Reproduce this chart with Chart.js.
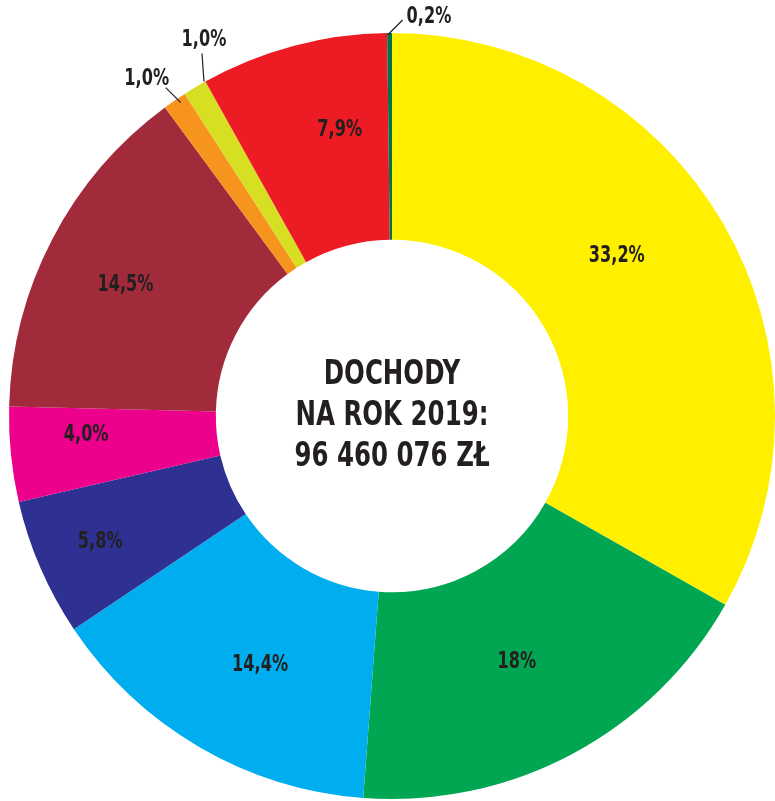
<!DOCTYPE html>
<html>
<head>
<meta charset="utf-8">
<script src="https://cdn.jsdelivr.net/npm/chart.js@4"></script>
<style>
  html, body { margin: 0; padding: 0; background: #fff; }
  #wrap { width: 775px; height: 801px; position: relative; }
</style>
</head>
<body>
<div id="wrap"><canvas id="chart"></canvas></div>
<script>
const categories = ["A", "B", "C", "D", "E", "F", "G", "H", "I", "J"];
const shares = [33.2, 18, 14.4, 5.8, 4.0, 14.5, 1.0, 1.0, 7.9, 0.2];
const labels = ["33,2%", "18%", "14,4%", "5,8%", "4,0%", "14,5%", "1,0%", "1,0%", "7,9%", "0,2%"];
const centerLines = ["DOCHODY", "NA ROK 2019:", "96 460 076 ZŁ"];

const colors = ['#fff000', '#00a651', '#00aeef', '#2e3192', '#ec008c',
                '#a12b3a', '#f7941d', '#d7df23', '#ed1c24', '#00734a'];

// leader lines for the thin slices (offsets from the slice's outer edge)
const leaders = {
    6: { x1: 6, y1: 2, x2: -9, y2: -13, tx: -28, ty: -22, align: 'center' },
    7: { x1: 9, y1: -6, x2: 7, y2: -34, tx: 9, ty: -48, align: 'center' },
    9: { x1: -2, y1: 2, x2: 13, y2: -13, tx: 17, ty: -16, align: 'left' },
};
// small nudges of the in-slice labels (radius fraction, angle shift in rad)
const nudge = {
    0: [0.72, -0.09], 1: [0.72, 0.02], 2: [0.735, -0.04], 3: [0.83, 0],
    4: [0.8, 0.04], 5: [0.775, -0.025], 8: [0.76, 0.08]
};

const FONT = '"DejaVu Sans Condensed", "DejaVu Sans", sans-serif';
const INK = '#231f20';

function narrowText(ctx, t, x, y, sx) {
    ctx.save();
    ctx.translate(x, y);
    ctx.scale(sx, 1);
    ctx.fillText(t, 0, 0);
    ctx.restore();
}

const labelPlugin = {
    id: 'sliceLabels',
    afterDatasetsDraw(chart) {
        const ctx = chart.ctx;
        const meta = chart.getDatasetMeta(0);
        ctx.save();
        ctx.fillStyle = INK;
        ctx.strokeStyle = INK;
        ctx.lineWidth = 1.2;
        ctx.font = 'bold 23px ' + FONT;
        ctx.textBaseline = 'middle';
        meta.data.forEach((arc, i) => {
            let mid = (arc.startAngle + arc.endAngle) / 2;
            const L = leaders[i];
            if (L) {
                const ox = arc.x + Math.cos(mid) * arc.outerRadius;
                const oy = arc.y + Math.sin(mid) * arc.outerRadius;
                ctx.beginPath();
                ctx.moveTo(ox + L.x1, oy + L.y1);
                ctx.lineTo(ox + L.x2, oy + L.y2);
                ctx.stroke();
                ctx.textAlign = L.align;
                narrowText(ctx, labels[i], ox + L.tx, oy + L.ty, 0.78);
            } else {
                const n = nudge[i] || [0.74, 0];
                const r = arc.outerRadius * n[0];
                mid += n[1];
                ctx.textAlign = 'center';
                narrowText(ctx, labels[i], arc.x + Math.cos(mid) * r, arc.y + Math.sin(mid) * r, 0.78);
            }
        });
        // centre text
        const cx = meta.data[0].x, cy = meta.data[0].y;
        ctx.font = 'bold 34px ' + FONT;
        ctx.textAlign = 'center';
        centerLines.forEach((t, k) => {
            narrowText(ctx, t, cx, cy + (k - 1) * 41, 0.8);
        });
        ctx.restore();
    }
};

new Chart(document.getElementById('chart').getContext('2d'), {
    type: 'doughnut',
    data: {
        labels: categories,
        datasets: [{
            data: shares,
            backgroundColor: colors,
            borderWidth: 0,
        }]
    },
    options: {
        responsive: true,
        maintainAspectRatio: false,
        animation: false,
        cutout: '46%',
        layout: { padding: { left: 9, right: 0, top: 33, bottom: 2 } },
        plugins: {
            legend: { display: false },
            tooltip: { enabled: false },
        },
    },
    plugins: [labelPlugin]
});
</script>
</body>
</html>
